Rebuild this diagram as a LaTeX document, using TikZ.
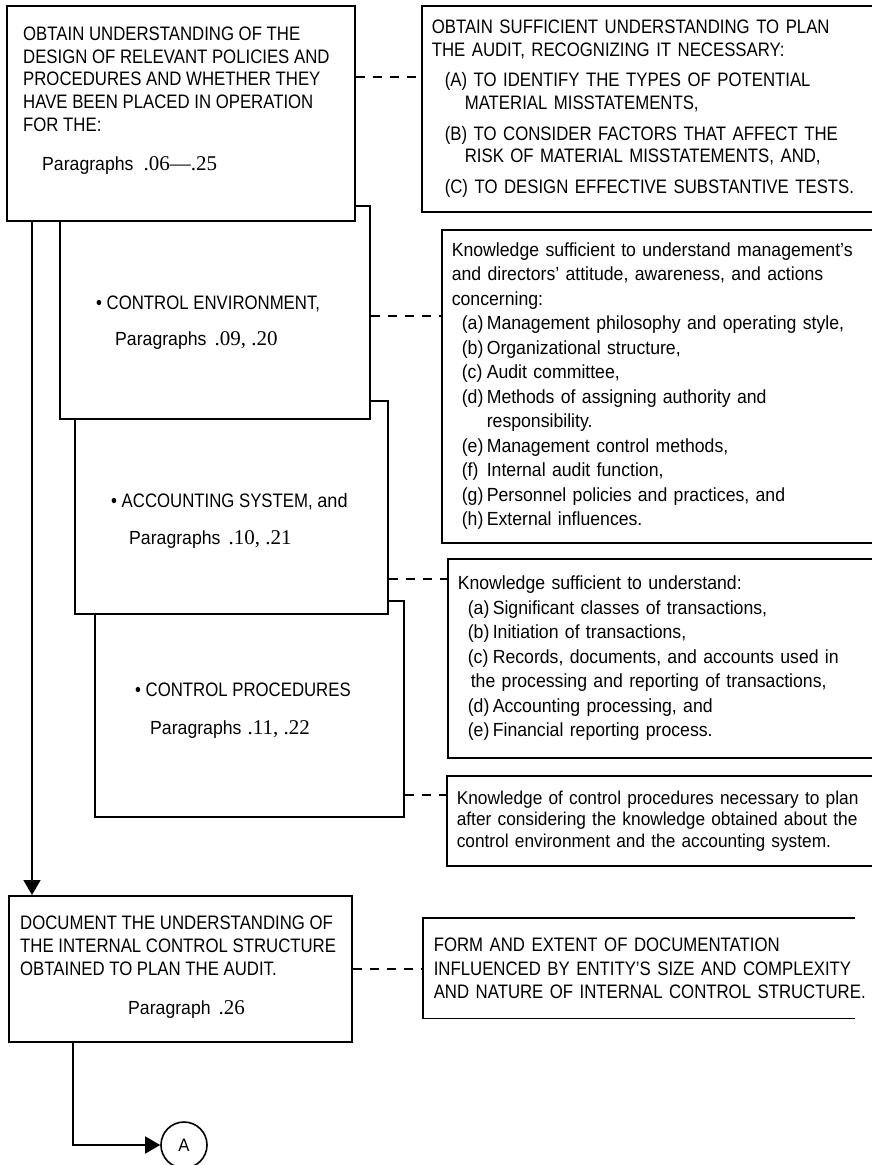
\documentclass[tikz,border=0pt]{standalone}
\usepackage{fontspec}
\setmainfont{Liberation Sans}
\newfontfamily\capsfont{Liberation Sans}[FakeStretch=0.86]
\newfontfamily\lowfont{Liberation Sans}[FakeStretch=0.93]
\newfontfamily\numfont{Liberation Serif}
\usetikzlibrary{positioning,arrows.meta}

\newcommand{\ilab}[1]{\hspace*{10pt}\makebox[25pt][l]{#1}}
\newcommand{\parnum}[1]{{\numfont\fontsize{21}{21}\selectfont #1}}

\tikzset{
  stepbox/.style={draw, line width=1.6pt, fill=white, anchor=north west, inner sep=0pt},
  notebox/.style={draw, line width=1.6pt, fill=white, anchor=north west, align=left,
    text width=470pt, inner xsep=10pt, inner ysep=0pt},
  capstext/.style={font=\capsfont\fontsize{19.5}{22.7}\selectfont},
  lowtext/.style={font=\lowfont\fontsize{19}{24.5}\selectfont},
  txtnode/.style={anchor=north west, inner sep=0pt, align=left},
  link/.style={line width=2.6pt, dash pattern=on 9pt off 8pt},
  flow/.style={line width=1.6pt, -{Triangle[length=15pt,width=17pt]}}
}

\begin{document}
\begin{tikzpicture}[x=1pt, y=1pt]
\useasboundingbox (0,0) rectangle (872,-1165);

% steps on the left, back to front
\node[stepbox, minimum width=309pt, minimum height=216pt] (ctrlproc) at (94,-600) {};
\node[stepbox, minimum width=313pt, minimum height=213pt] (accsys) at (74,-400) {};
\node[stepbox, minimum width=310pt, minimum height=213pt] (ctrlenv) at (59,-205) {};
\node[stepbox, minimum width=348pt, minimum height=215pt] (obtain) at (6,-5) {};
\node[stepbox, minimum width=343pt, minimum height=146pt] (document) at (8,-895) {};

\node[txtnode, capstext] (obtaintxt) at (23,-26.5) {OBTAIN UNDERSTANDING OF THE\\
  DESIGN OF RELEVANT POLICIES AND\\PROCEDURES AND WHETHER THEY\\
  HAVE BEEN PLACED IN OPERATION\\FOR THE:};
\node[txtnode, lowtext] (obtainpar) at (42,-156) {Paragraphs\hspace{10pt}\parnum{.06—.25}};

\node[txtnode, capstext] (ctrlenvtxt) at (96,-296) {\textbullet\ CONTROL ENVIRONMENT,};
\node[txtnode, lowtext] (ctrlenvpar) at (115,-331) {Paragraphs\hspace{8pt}\parnum{.09, .20}};

\node[txtnode, capstext] (accsystxt) at (111,-493) {\textbullet\ ACCOUNTING SYSTEM, {\lowfont and}};
\node[txtnode, lowtext] (accsyspar) at (129,-530) {Paragraphs\hspace{8pt}\parnum{.10, .21}};

\node[txtnode, capstext] (ctrlproctxt) at (135,-683) {\textbullet\ CONTROL PROCEDURES};
\node[txtnode, lowtext] (ctrlprocpar) at (150,-720) {Paragraphs\hspace{6pt}\parnum{.11, .22}};

\node[txtnode, capstext] (documenttxt) at (20,-916) {DOCUMENT THE UNDERSTANDING OF\\
  THE INTERNAL CONTROL STRUCTURE\\OBTAINED TO PLAN THE AUDIT.};
\node[txtnode, lowtext] (documentpar) at (128,-1000) {Paragraph\hspace{8pt}\parnum{.26}};

% notes on the right
\node[notebox, capstext, minimum height=206pt] (plan) at (421,-5) {%
  OBTAIN SUFFICIENT UNDERSTANDING TO PLAN\\
  THE AUDIT, RECOGNIZING IT NECESSARY:\\[8pt]
  \hspace*{13pt}(A) TO IDENTIFY THE TYPES OF POTENTIAL\\
  \hspace*{33pt}MATERIAL MISSTATEMENTS,\\[8pt]
  \hspace*{13pt}(B) TO CONSIDER FACTORS THAT AFFECT THE\\
  \hspace*{33pt}RISK OF MATERIAL MISSTATEMENTS, AND,\\[8pt]
  \hspace*{13pt}(C) TO DESIGN EFFECTIVE SUBSTANTIVE TESTS.};

\node[notebox, lowtext, minimum height=313pt] (envnote) at (441,-229) {%
  Knowledge sufficient to understand management’s\\
  and directors’ attitude, awareness, and actions\\
  concerning:\\
  \ilab{(a)}Management philosophy and operating style,\\
  \ilab{(b)}Organizational structure,\\
  \ilab{(c)}Audit committee,\\
  \ilab{(d)}Methods of assigning authority and\\
  \hspace*{35pt}responsibility.\\
  \ilab{(e)}Management control methods,\\
  \ilab{(f)}Internal audit function,\\
  \ilab{(g)}Personnel policies and practices, and\\
  \ilab{(h)}External influences.};

\node[notebox, lowtext, minimum height=199pt] (accnote) at (447,-558) {%
  Knowledge sufficient to understand:\\
  \ilab{(a)}Significant classes of transactions,\\
  \ilab{(b)}Initiation of transactions,\\
  \ilab{(c)}Records, documents, and accounts used in\\
  \hspace*{13pt}the processing and reporting of transactions,\\
  \ilab{(d)}Accounting processing, and\\
  \ilab{(e)}Financial reporting process.};

\node[notebox, lowtext, font=\lowfont\fontsize{18.6}{21.5}\selectfont, minimum height=90pt]
  (procnote) at (446,-775) {%
  Knowledge of control procedures necessary to plan\\
  after considering the knowledge obtained about the\\
  control environment and the accounting system.};

\node[notebox, capstext, draw=none, font=\capsfont\fontsize{19.5}{23.5}\selectfont,
  minimum height=99pt] (formnote) at (423,-918) {%
  FORM AND EXTENT OF DOCUMENTATION\\
  INFLUENCED BY ENTITY’S SIZE AND COMPLEXITY\\
  AND NATURE OF INTERNAL CONTROL STRUCTURE.};
\draw[line width=1.6pt] ([xshift=432pt]formnote.north west) -- (formnote.north west)
  -- (formnote.south west) -- ([xshift=432pt]formnote.south west);

% dashed ties
\draw[link] ([yshift=-72pt]obtain.north east) -- ([yshift=-72pt]obtain.north east -| plan.west);
\draw[link] ([yshift=-111pt]ctrlenv.north east) -- ([yshift=-111pt]ctrlenv.north east -| envnote.west);
\draw[link] ([yshift=-179pt]accsys.north east) -- ([yshift=-179pt]accsys.north east -| accnote.west);
\draw[link] ([yshift=-195pt]ctrlproc.north east) -- ([yshift=-195pt]ctrlproc.north east -| procnote.west);
\draw[link] ([yshift=-74pt]document.north east) -- ([yshift=-74pt]document.north east -| formnote.west);

% flow
\coordinate (trunk) at ([xshift=26pt]obtain.south west);
\draw[flow] (trunk) -- (trunk |- document.north);
\node[draw, circle, line width=1.6pt, minimum size=46pt, inner sep=0pt,
  font=\lowfont\fontsize{18}{18}\selectfont] (circA) at (184,-1145) {A};
\draw[flow] ([xshift=65pt]document.south west) |- (circA.west);
\end{tikzpicture}
\end{document}
